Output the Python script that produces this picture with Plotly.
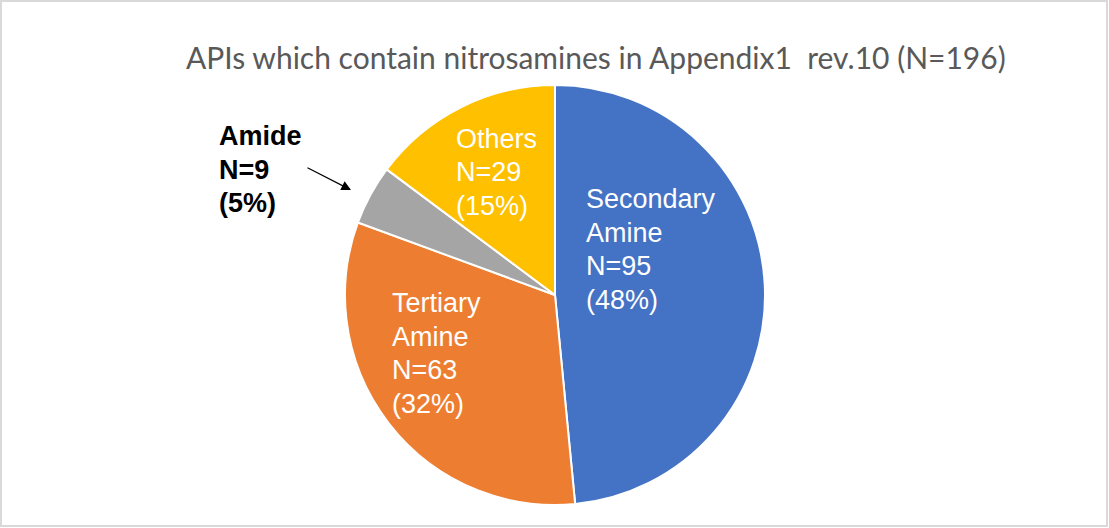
import plotly.graph_objects as go

W, H = 1109, 528

# Data
categories = ["Secondary Amine", "Tertiary Amine", "Amide", "Others"]
counts = [95, 63, 9, 29]
colors = ["#4472C4", "#ED7D31", "#A5A5A5", "#FFC000"]
title_text = "APIs which contain nitrosamines in Appendix1  rev.10 (N=196)"

total = sum(counts)
pcts = [round(100 * c / total) for c in counts]


def label_lines(name, n, p):
    # split two-word names onto two lines like the original
    return name.split(" ") + [f"N={n}", f"({p}%)"]


# label positions in pixels (left edge, middle of first line)
label_pos = {
    "Secondary Amine": (584, 199),
    "Tertiary Amine": (390, 303),
    "Amide": (217, 136),
    "Others": (454, 139),
}
LINE_STEP = 33.5

fig = go.Figure(
    go.Pie(
        labels=categories,
        values=counts,
        marker=dict(colors=colors, line=dict(color="white", width=2)),
        sort=False,
        direction="clockwise",
        rotation=0,
        textinfo="none",
        hoverinfo="label+value+percent",
        showlegend=False,
        domain=dict(x=[345 / W, 765 / W], y=[1 - 505 / H, 1 - 85 / H]),
    )
)

annotations = []
for name, n, p in zip(categories, counts, pcts):
    px, py = label_pos[name]
    is_amide = name == "Amide"
    for i, line in enumerate(label_lines(name, n, p)):
        annotations.append(dict(
            x=px / W, y=1 - (py + i * LINE_STEP) / H, xref="paper", yref="paper",
            xanchor="left", yanchor="middle", align="left",
            text=f"<b>{line}</b>" if is_amide else line,
            showarrow=False,
            font=dict(family="Liberation Sans, Arial, sans-serif", size=27,
                      color="black" if is_amide else "white"),
        ))

# arrow pointing from the Amide label to its slice
annotations.append(dict(
    x=351 / W, y=1 - 190 / H, ax=-45, ay=-23,
    xref="paper", yref="paper", axref="pixel", ayref="pixel",
    text="", showarrow=True, arrowhead=2, arrowsize=1.6, arrowwidth=1.2,
    arrowcolor="black",
))

# chart title
annotations.append(dict(
    x=596 / W, y=1 - 57 / H, xref="paper", yref="paper",
    xanchor="center", yanchor="middle", text=title_text, showarrow=False,
    font=dict(family="Lato, Open Sans, sans-serif", size=30, color="#595959"),
))

fig.update_layout(
    width=W, height=H,
    margin=dict(l=0, r=0, t=0, b=0),
    paper_bgcolor="white",
    plot_bgcolor="white",
    annotations=annotations,
    shapes=[dict(type="rect", xref="paper", yref="paper",
                 x0=1 / W, x1=1 - 2 / W, y0=2 / H, y1=1 - 1 / H,
                 line=dict(color="#D9D9D9", width=2))],
)

fig.write_html(
    "out.html",
    config={"displayModeBar": False},
    post_script="document.body.style.margin='0';document.body.style.overflow='hidden';",
)
